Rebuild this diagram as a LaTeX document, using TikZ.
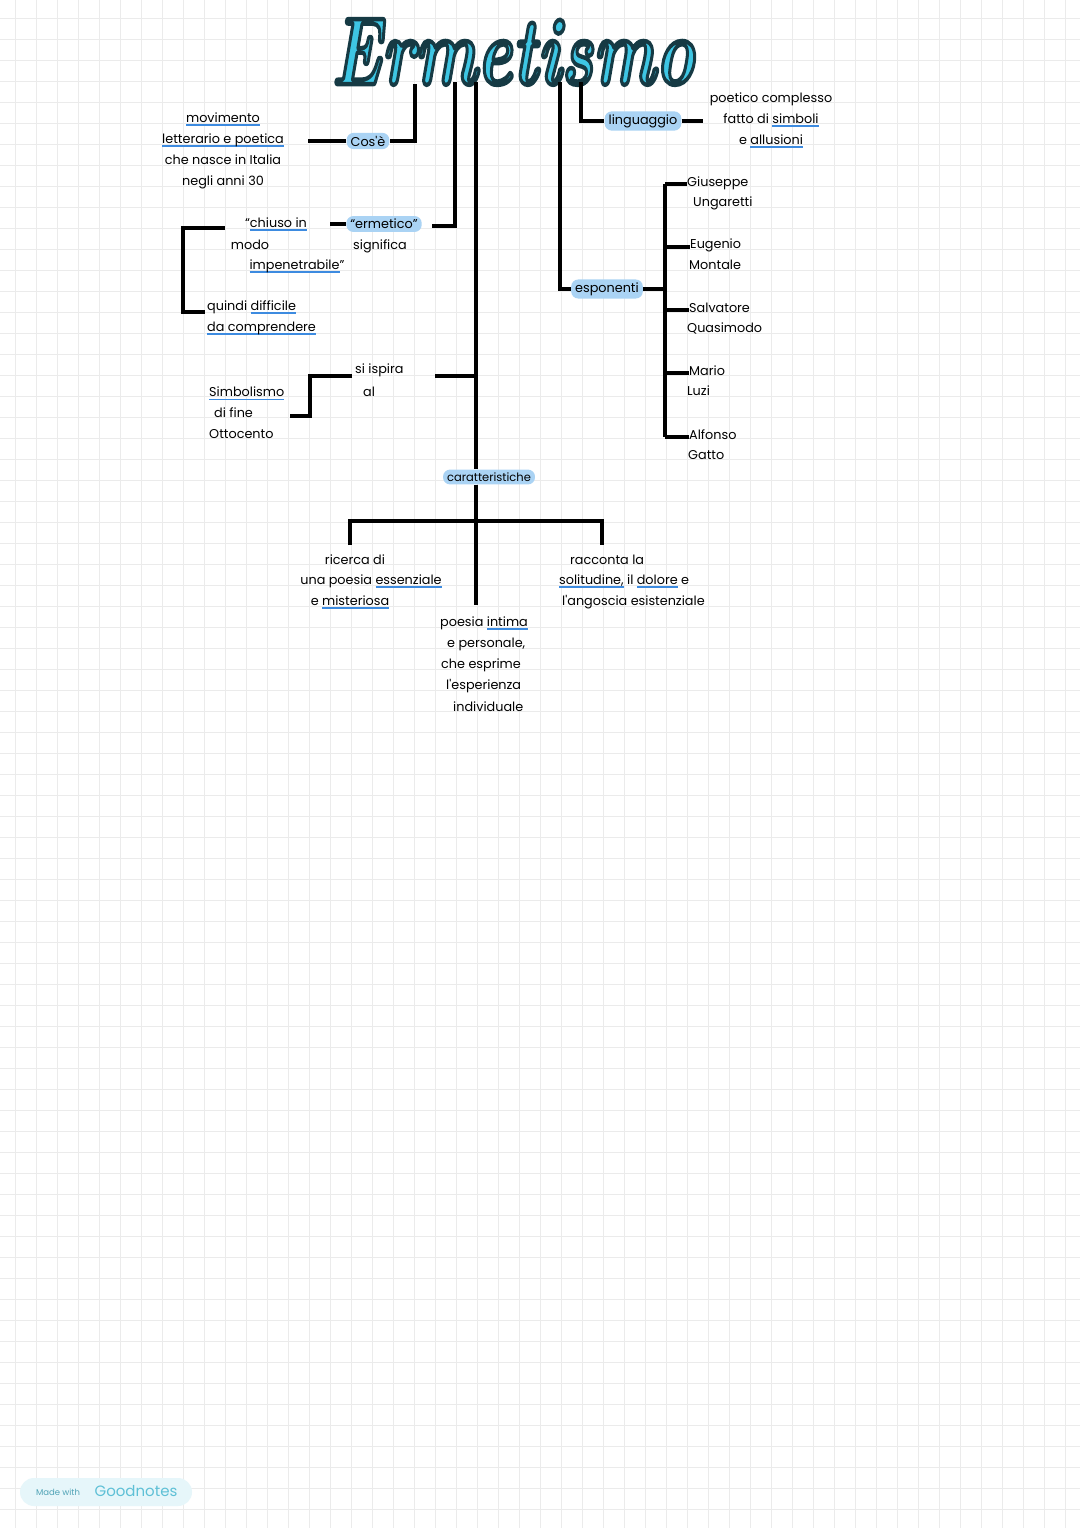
\documentclass[tikz,border=0pt]{standalone}
\usepackage{fontspec}
\usepackage{graphicx}
\newfontfamily\hand{Poppins}
\definecolor{gridc}{HTML}{EBEBEB}
\definecolor{pillc}{HTML}{AAD3F4}
\definecolor{ulc}{HTML}{3D8BE0}
\definecolor{titlec}{HTML}{3EC6E4}
\definecolor{titleo}{HTML}{163A44}
\definecolor{badgec}{HTML}{E6F6FA}
\definecolor{badget}{HTML}{5EC0D6}
\newcommand\ulb[1]{\setbox0\hbox{#1}\rlap{\textcolor{ulc}{\rule[-3.5pt]{\wd0}{1.7pt}}}\box0\relax}
\newcommand\ttxt{\scalebox{1}[1.45]{\fontsize{66}{66}\selectfont\bfseries\itshape\color{titlec}\special{pdf:literal direct 2 Tr 3 w 1 j 0.086 0.227 0.267 RG}Ermetismo\special{pdf:literal direct 0 Tr}}}
\begin{document}
\begin{tikzpicture}[x=1pt,y=-1pt,
  txt/.style={font=\hand\fontsize{12.8}{21}\selectfont, inner sep=0pt},
  pill/.style={txt, fill=pillc, rounded corners=7pt, inner xsep=4pt, inner ysep=3pt},
  conn/.style={line width=3.3pt, line cap=butt}]
\useasboundingbox (0,0) rectangle (1080,1528);
\fill[white] (0,0) rectangle (1080,1528);
\foreach \i in {0,...,51} \draw[gridc, line width=0.8pt] ({15+21*\i},0) -- ({15+21*\i},1528);
\foreach \k in {0,...,71} \draw[gridc, line width=0.8pt] (0,{18+21*\k}) -- (1080,{18+21*\k});

% title
\node[inner sep=0pt] (T) at (513,52) {\ttxt};

% Cos'e branch
\coordinate (a0) at (415,84);
\node[pill] (cose) at (368,141) {Cos'è};
\draw[conn] (a0) |- (cose.east);
\coordinate (a1) at (308,141);
\draw[conn] (cose.west) -- (a1);
\node[txt, align=center] (mov) at (223,151) {\ulb{movimento}\\\ulb{letterario e poetica}\\che nasce in Italia\\negli anni 30};

% ermetico branch
\coordinate (b0) at (455,82);
\coordinate (b1) at (432,226);
\draw[conn] (b0) |- (b1);
\node[pill] (erm) at (384,224) {“ermetico”};
\node[txt] (sig) at (380,246) {significa};
\coordinate (b2) at (330,224);
\draw[conn] (b2) -- (erm.west);
\node[txt] (ch1) at (276,224) {“\ulb{chiuso in}};
\node[txt] (ch2) at (250,245) {modo};
\node[txt] (ch3) at (297,266) {\ulb{impenetrabile}”};
\coordinate (br0) at (225,228);
\coordinate (br1) at (183,228);
\coordinate (br2) at (205,312);
\draw[conn] (br0) -- (br1) |- (br2);
\node[txt, anchor=west, align=left] (qu) at (207,318) {quindi \ulb{difficile}\\\ulb{da comprendere}};

% main line
\coordinate (c0) at (476,82);
\node[pill, font=\hand\fontsize{11.5}{13}\selectfont] (car) at (489,477) {caratteristiche};
\draw[conn] (c0) -- (c0 |- car.north);
\coordinate (c1) at (476,605);
\draw[conn] (c0 |- car.south) -- (c1);
\coordinate (cl) at (350,521);
\coordinate (cr) at (602,521);
\coordinate (cld) at (350,545);
\coordinate (crd) at (602,545);
\draw[conn] (cld) -- (cl) -- (cr) -- (crd);

% si ispira
\coordinate (c2) at (476,376);
\coordinate (c3) at (435,376);
\draw[conn] (c2) -- (c3);
\node[txt, anchor=west] (sp1) at (355,370) {si ispira};
\node[txt, anchor=west] (sp2) at (363,392) {al};
\coordinate (s0) at (352,376);
\coordinate (s1) at (310,376);
\coordinate (s2) at (290,416);
\draw[conn] (s0) -- (s1) |- (s2);
\node[txt, anchor=west, align=left] (sim) at (209,413) {\ulb{Simbolismo}\\\hspace{5pt}di fine\\Ottocento};

% bottom texts
\node[txt] (ri1) at (355,560) {ricerca di};
\node[txt] (ri2) at (371,581) {una poesia \ulb{essenziale}};
\node[txt] (ri3) at (350,602) {e \ulb{misteriosa}};
\node[txt, anchor=west] (pi1) at (440,623) {poesia \ulb{intima}};
\node[txt, anchor=west] (pi2) at (447,644) {e personale,};
\node[txt, anchor=west] (pi3) at (441,665) {che esprime};
\node[txt, anchor=west] (pi4) at (446,686) {l'esperienza};
\node[txt, anchor=west] (pi5) at (453,707) {individuale};
\node[txt, anchor=west] (ra1) at (570,560) {racconta la};
\node[txt, anchor=west] (ra2) at (559,581) {\ulb{solitudine,} il \ulb{dolore} e};
\node[txt, anchor=west] (ra3) at (562,602) {l'angoscia esistenziale};

% esponenti
\coordinate (d0) at (560,82);
\node[pill] (esp) at (607,289) {esponenti};
\draw[conn] (d0) |- (esp.west);
\coordinate (d1) at (665,289);
\draw[conn] (esp.east) -- (d1);
\coordinate (dt) at (665,184);
\coordinate (db) at (665,437);
\draw[conn] (dt) -- (db);
\node[txt, anchor=west] (n1a) at (687,183) {Giuseppe};
\node[txt, anchor=west] (n1b) at (693,203) {Ungaretti};
\node[txt, anchor=west] (n2a) at (690,245) {Eugenio};
\node[txt, anchor=west] (n2b) at (689,265) {Montale};
\node[txt, anchor=west] (n3a) at (689,308) {Salvatore};
\node[txt, anchor=west] (n3b) at (687,328) {Quasimodo};
\node[txt, anchor=west] (n4a) at (689,371) {Mario};
\node[txt, anchor=west] (n4b) at (687,391) {Luzi};
\node[txt, anchor=west] (n5a) at (689,435) {Alfonso};
\node[txt, anchor=west] (n5b) at (688,455) {Gatto};
\coordinate (k2) at (665,247);
\coordinate (k3) at (665,310);
\coordinate (k4) at (665,373);
\draw[conn] (dt) -- (dt -| n1a.west);
\draw[conn] (k2) -- (k2 -| n2a.west);
\draw[conn] (k3) -- (k3 -| n3a.west);
\draw[conn] (k4) -- (k4 -| n4a.west);
\draw[conn] (db) -- (db -| n5a.west);

% linguaggio
\coordinate (e0) at (581,82);
\node[pill] (ling) at (643,121) {linguaggio};
\draw[conn] (e0) |- (ling.west);
\coordinate (e1) at (703,121);
\draw[conn] (ling.east) -- (e1);
\node[txt, align=center] (lt) at (771,120) {poetico complesso\\fatto di \ulb{simboli}\\e \ulb{allusioni}};

% badge
\node[fill=badgec, rounded corners=14pt, minimum width=172pt, minimum height=28pt, inner sep=0pt] (badge) at (106,1492) {};
\node[text=badget!85!black, font=\hand\fontsize{8.5}{10}\selectfont, inner sep=0pt] (bm) at (58,1492) {Made with};
\node[text=badget, font=\hand\fontsize{15}{17}\selectfont, inner sep=0pt] (bg) at (136,1491) {Goodnotes};
\end{tikzpicture}
\end{document}
